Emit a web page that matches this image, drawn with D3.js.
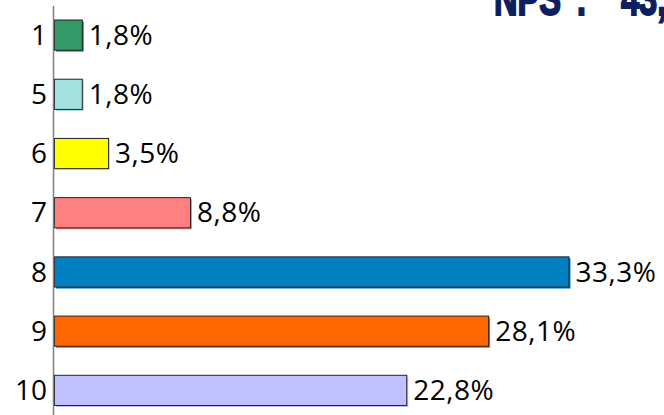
<!DOCTYPE html>
<html>
<head>
<meta charset="utf-8">
<script src="https://cdn.jsdelivr.net/npm/d3@7"></script>
<style>
  html, body { margin: 0; padding: 0; background: #fff; }
  svg { display: block; }
</style>
</head>
<body>
<svg id="chart" width="664" height="415"></svg>
<script>
const categories = ["1", "5", "6", "7", "8", "9", "10"];
const values = [1.8, 1.8, 3.5, 8.8, 33.3, 28.1, 22.8];
const valueLabels = ["1,8%", "1,8%", "3,5%", "8,8%", "33,3%", "28,1%", "22,8%"];
const colors = ["#339966", "#a3e0e0", "#ffff00", "#ff8080", "#0080c0", "#ff6600", "#c0c0ff"];
const titleParts = ["NPS", ":", "43,8"];

const svg = d3.select("#chart");
const W = 664, H = 415;

const x = d3.scaleLinear().domain([0, 35]).range([54, 54 + 35 * 15.45]);
const y = d3.scaleBand().domain(categories).range([-9.5, 434]).paddingInner(0.49).paddingOuter(0.49);

const data = categories.map((c, i) => ({ c, v: values[i], label: valueLabels[i], color: colors[i] }));

// shadows
svg.append("g").selectAll("rect").data(data).join("rect")
  .attr("x", x(0) + 2)
  .attr("y", d => y(d.c) + 2)
  .attr("width", d => x(d.v) - x(0))
  .attr("height", y.bandwidth())
  .attr("fill", d => d.color);

// bars
svg.append("g").selectAll("rect").data(data).join("rect")
  .attr("x", x(0) + 0.5)
  .attr("y", d => y(d.c) + 0.5)
  .attr("width", d => x(d.v) - x(0))
  .attr("height", y.bandwidth())
  .attr("fill", d => d.color)
  .attr("stroke", "#222")
  .attr("stroke-width", 1);

// axis line
svg.append("line")
  .attr("x1", 53.5).attr("x2", 53.5)
  .attr("y1", 6).attr("y2", H)
  .attr("stroke", "#808080").attr("stroke-width", 1.5);

// category labels
svg.append("g").selectAll("text").data(data).join("text")
  .attr("x", 47)
  .attr("y", d => y(d.c) + y.bandwidth() / 2)
  .attr("dy", "0.36em")
  .attr("text-anchor", "end")
  .attr("font-family", "'Open Sans', sans-serif")
  .attr("font-size", 28)
  .attr("fill", "#000")
  .text(d => d.c);

// value labels
svg.append("g").selectAll("text").data(data).join("text")
  .attr("x", d => x(d.v) + 7)
  .attr("y", d => y(d.c) + y.bandwidth() / 2)
  .attr("dy", "0.36em")
  .attr("font-family", "'Open Sans', sans-serif")
  .attr("font-size", 28)
  .attr("letter-spacing", 0.5)
  .attr("fill", "#000")
  .text(d => d.label);

// title (cut off at top right, as in the reference)
const t = svg.append("g")
  .attr("transform", "translate(494,15) scale(0.68,1)")
  .append("text")
  .attr("x", 0)
  .attr("y", 0)
  .attr("font-family", "'Liberation Sans', Arial, sans-serif")
  .attr("font-weight", "bold")
  .attr("font-size", 48)
  .attr("fill", "#0c2060")
  .attr("stroke", "#0c2060")
  .attr("stroke-width", 2);
t.append("tspan").text(titleParts[0]);
t.append("tspan").attr("dx", 22).text(titleParts[1]);
t.append("tspan").attr("dx", 50).text(titleParts[2]);
</script>
</body>
</html>
